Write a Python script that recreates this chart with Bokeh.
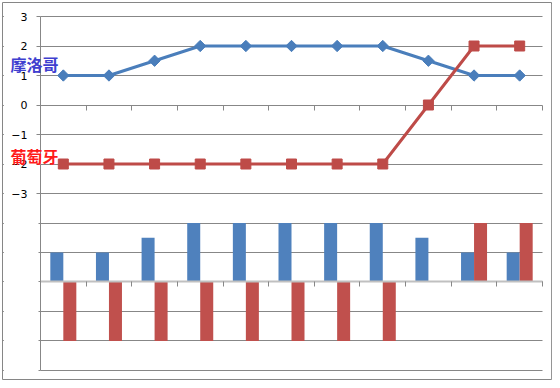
import math
from bokeh.plotting import figure
from bokeh.models import (Range1d, LinearAxis, FixedTicker, ColumnDataSource,
                          Label, BoxAnnotation)
from bokeh.transform import dodge
from bokeh.embed import file_html
from bokeh.resources import INLINE

# ---- data ----
rounds = [1, 2, 3, 4, 5, 6, 7, 8, 9, 10, 11]
morocco = [1, 1, 1.5, 2, 2, 2, 2, 2, 1.5, 1, 1]
portugal = [-2, -2, -2, -2, -2, -2, -2, -2, 0, 2, 2]
series_names = ["摩洛哥", "葡萄牙"]
y_labels = [3, 2, 1, 0, -1, -2, -3]
bar_rows = [-4, -5, -6, -7, -8, -9]   # grid rows of the lower (bar) panel
BAR_SHIFT = 6                          # lower panel zero sits at -6

BLUE_LINE = "#4A7EBB"
RED_LINE = "#BE4B48"
BLUE_BAR = "#4F81BD"
RED_BAR = "#C0504D"
GRID = "#878787"

src = ColumnDataSource(dict(x=rounds, m=morocco, p=portugal))

X0 = rounds[0] - 0.5
X1 = rounds[-1] + 0.5
XS, XE = X0 - 0.8327, X1 + 0.2191
YS, YE = min(bar_rows) - 0.339, max(y_labels) + 0.4746

p = figure(width=552, height=380, output_backend="svg", toolbar_location=None,
           x_range=Range1d(XS, XE), y_range=Range1d(YS, YE),
           min_border_left=2, min_border_top=2, min_border_right=0,
           min_border_bottom=0,
           outline_line_color="#868686", outline_line_width=1,
           x_axis_location=None, y_axis_location=None)
p.extra_y_ranges = {"bars": Range1d(YS + BAR_SHIFT, YE + BAR_SHIFT)}

# grid
p.ygrid.ticker = FixedTicker(ticks=bar_rows + y_labels)
p.ygrid.grid_line_color = GRID
p.xgrid.grid_line_color = None
# blank out the grid outside the category span (keep the outer frame line)
eps_x, eps_y = 0.03, 0.05
p.add_layout(BoxAnnotation(left=XS + eps_x, right=X0, top=YE - eps_y,
                           bottom=YS + eps_y, fill_color="white", fill_alpha=1,
                           line_color=None, level="underlay"))
p.add_layout(BoxAnnotation(left=X1, right=XE - eps_x, top=YE - eps_y,
                           bottom=YS + eps_y, fill_color="white", fill_alpha=1,
                           line_color=None, level="underlay"))

# left value axis placed at the left edge of the category range
yax = LinearAxis(ticker=FixedTicker(ticks=y_labels, minor_ticks=bar_rows),
                 fixed_location=X0, bounds=(min(bar_rows), max(y_labels)))
yax.axis_line_color = GRID
yax.major_tick_line_color = GRID
yax.major_tick_out = 4
yax.major_tick_in = 0
yax.minor_tick_line_color = GRID
yax.minor_tick_out = 2
yax.minor_tick_in = 0
yax.major_label_standoff = 9
yax.major_label_text_font = "DejaVu Sans"
yax.major_label_text_font_size = "11px"
yax.major_label_text_color = "#000000"
p.add_layout(yax, "left")

# category axes at the zero of each panel (tick marks only)
for loc, line_col in [(0, None), (-BAR_SHIFT, "#C0C0C0")]:
    ax = LinearAxis(ticker=FixedTicker(ticks=[],
                                       minor_ticks=[r + 0.5 for r in [0] + rounds]),
                    fixed_location=loc, bounds=(X0, X1))
    ax.axis_line_color = line_col
    ax.axis_line_width = 2
    ax.major_tick_line_color = None
    ax.minor_tick_line_color = GRID
    ax.minor_tick_out = 5
    ax.minor_tick_in = 0
    p.add_layout(ax, "below")

# bars (bottom panel)
p.vbar(x=dodge("x", -0.1425, range=p.x_range), top="m", bottom=0, width=0.285,
       source=src, fill_color=BLUE_BAR, line_color=None, y_range_name="bars")
p.vbar(x=dodge("x", 0.1425, range=p.x_range), top="p", bottom=0, width=0.285,
       source=src, fill_color=RED_BAR, line_color=None, y_range_name="bars")

# lines (top panel)
p.line("x", "m", source=src, color=BLUE_LINE, line_width=3)
p.scatter("x", "m", source=src, marker="square", angle=math.pi / 4, size=8,
          color=BLUE_LINE)
p.line("x", "p", source=src, color=RED_LINE, line_width=3)
p.scatter("x", "p", source=src, marker="square", size=10, color=RED_LINE)

# series labels
p.add_layout(Label(x=0.3685, y=1.373, text=series_names[0], text_align="center",
                   text_baseline="middle", text_font="Noto Sans CJK SC",
                   text_font_style="bold", text_font_size="16px",
                   text_color="#3F3FCF"))
p.add_layout(Label(x=0.3685, y=-1.712, text=series_names[1], text_align="center",
                   text_baseline="middle", text_font="Noto Sans CJK SC",
                   text_font_style="bold", text_font_size="16px",
                   text_color="#FF1A1A"))

open("out.html", "w").write(file_html(p, INLINE))
